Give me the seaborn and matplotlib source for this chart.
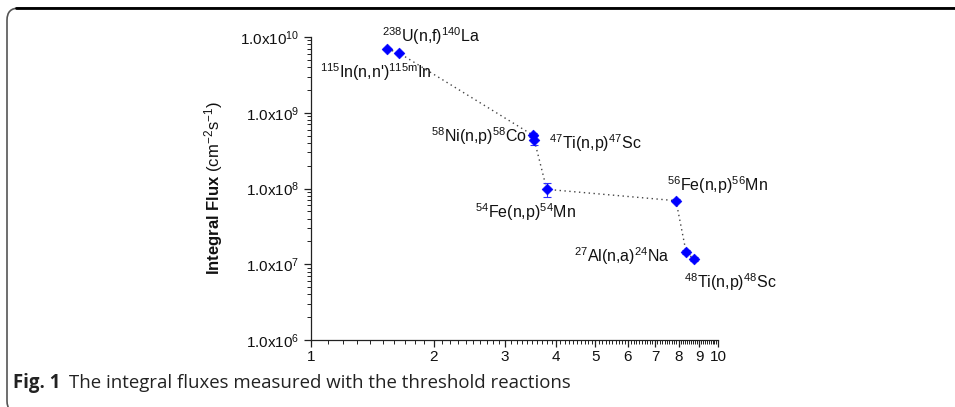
import numpy as np
import pandas as pd
import matplotlib
matplotlib.use("Agg")
import matplotlib.pyplot as plt
import matplotlib.ticker as mticker
from matplotlib.patches import FancyBboxPatch
from matplotlib.lines import Line2D
from matplotlib.transforms import IdentityTransform
import seaborn as sns

# ======================
# Data
# ======================
energy = [1.54, 1.645, 3.505, 3.537, 3.795, 7.885, 8.35, 8.73]
flux = [6.95e9, 6.15e9, 5.08e8, 4.37e8, 9.75e7, 6.9e7, 1.44e7, 1.17e7]
flux_err = [2e8, 2e8, 3e7, 6e7, 2e7, 3e6, 8e5, 7e5]
reactions = [
    r"$^{238}$U(n,f)$^{140}$La",
    r"$^{115}$In(n,n')$^{\mathrm{115m}}$In",
    r"$^{58}$Ni(n,p)$^{58}$Co",
    r"$^{47}$Ti(n,p)$^{47}$Sc",
    r"$^{54}$Fe(n,p)$^{54}$Mn",
    r"$^{56}$Fe(n,p)$^{56}$Mn",
    r"$^{27}$Al(n,a)$^{24}$Na",
    r"$^{48}$Ti(n,p)$^{48}$Sc",
]
# label placement: (dx, dy) in pixels from the point, horizontal alignment
label_pos = [(-5, 13, "left"), (33, -19, "right"), (-6, -1, "right"), (15, -3, "left"),
             (-21, -23, "center"), (-9, 16, "left"), (-16, -4, "right"), (-10, -23, "left")]

x_ticks = [1, 2, 3, 4, 5, 6, 7, 8, 9, 10]
y_ticks = [1e6, 1e7, 1e8, 1e9, 1e10]
y_ticklabels = [r"1.0x10$^{%d}$" % e for e in range(6, 11)]

df = pd.DataFrame({"energy": energy, "flux": flux})

# ======================
# Style
# ======================
sns.set_style("ticks")
plt.rcParams["font.family"] = ["Liberation Sans", "DejaVu Sans"]
plt.rcParams["mathtext.fontset"] = "custom"
plt.rcParams["mathtext.rm"] = "Liberation Sans"
plt.rcParams["mathtext.it"] = "Liberation Sans:italic"
plt.rcParams["mathtext.bf"] = "Liberation Sans:bold"

fig = plt.figure(figsize=(9.55, 4.07), dpi=100)
ax = fig.add_axes([311 / 955, 1 - 340 / 407, 407 / 955, 303 / 407])

# ======================
# Plot
# ======================
sns.lineplot(data=df, x="energy", y="flux", sort=False, ax=ax,
             color="#444444", linestyle=(0, (1, 2.5)), linewidth=1)
ax.errorbar(energy, flux, yerr=flux_err, fmt="none", ecolor="#3030ff",
            elinewidth=0.8, capsize=3, capthick=0.8, zorder=3)
sns.scatterplot(data=df, x="energy", y="flux", ax=ax, marker="D", s=30,
                color="#0000ff", edgecolor="#0000ff", zorder=4)

for xv, yv, lab, (dx, dy, ha) in zip(energy, flux, reactions, label_pos):
    ax.annotate(lab, (xv, yv), xytext=(dx, dy), textcoords="offset pixels",
                ha=ha, va="center", fontsize=11.5, color="#111111")

ax.set_xscale("log")
ax.set_yscale("log")
ax.set_xlim(1, 10)
ax.set_ylim(1e6, 1e10)

ax.xaxis.set_major_locator(mticker.FixedLocator(x_ticks))
ax.xaxis.set_major_formatter(mticker.FixedFormatter([str(t) for t in x_ticks]))
ax.xaxis.set_minor_locator(mticker.MultipleLocator(0.1))
ax.xaxis.set_minor_formatter(mticker.NullFormatter())
ax.yaxis.set_major_locator(mticker.FixedLocator(y_ticks))
ax.yaxis.set_major_formatter(mticker.FixedFormatter(y_ticklabels))
ax.yaxis.set_minor_locator(mticker.LogLocator(base=10, subs=np.arange(2, 10)))
ax.yaxis.set_minor_formatter(mticker.NullFormatter())

ax.tick_params(axis="both", which="major", direction="out", length=5, width=0.9,
               labelsize=11, color="#222222", labelcolor="#111111")
ax.tick_params(axis="both", which="minor", direction="out", length=3, width=0.7,
               color="#222222")
ax.tick_params(axis="x", pad=2)
for s in ["left", "bottom"]:
    ax.spines[s].set_linewidth(0.9)
    ax.spines[s].set_color("#222222")
sns.despine(ax=ax)

ax.set_xlabel("")
ax.set_ylabel(r"$\bf{Integral\ Flux}$ (cm$^{-2}$s$^{-1}$)", fontsize=12, labelpad=11,
              color="#111111")

# ======================
# Frame & caption
# ======================
frame = FancyBboxPatch((7, -6), 1100, 405, boxstyle="round,pad=0,rounding_size=12",
                       transform=IdentityTransform(), facecolor="none",
                       edgecolor="#555555", linewidth=1.2)
fig.add_artist(frame)
fig.add_artist(Line2D([16, 955], [399, 399], transform=IdentityTransform(),
                      color="black", linewidth=2))

fig.text(13 / 955, 1 - 383 / 407, "Fig. 1", fontsize=13.4, fontweight="bold",
         family=["Open Sans", "DejaVu Sans"], va="center", color="#222222")
fig.text(69 / 955, 1 - 383 / 407, "The integral fluxes measured with the threshold reactions",
         fontsize=13.4, family=["Open Sans", "DejaVu Sans"], va="center", color="#222222")

plt.savefig("out.png", dpi=100)
